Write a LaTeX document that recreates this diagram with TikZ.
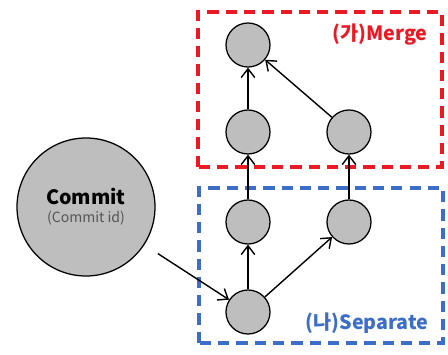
\documentclass[tikz,border=0pt]{standalone}
\usepackage{fontspec}
\setmainfont{Noto Sans CJK KR}
\usetikzlibrary{positioning, arrows.meta}
\definecolor{mergered}{RGB}{235,25,35}
\definecolor{sepblue}{RGB}{60,110,200}
\definecolor{nodegray}{RGB}{190,190,190}
\definecolor{idgray}{RGB}{85,85,85}

\begin{document}
\begin{tikzpicture}[
    node distance=2.25cm,
    commit/.style={circle, draw, fill=nodegray, minimum size=1.1cm, line width=0.9pt},
    bigcommit/.style={commit, minimum size=3.45cm, align=center},
    region/.style={line width=2.6pt, dash pattern=on 8pt off 5pt},
    label/.style={font=\bfseries\fontsize{14}{16}\selectfont},
    arrow/.style={-{Straight Barb[length=2.2mm, width=3.4mm]}, line width=1pt}
]
\useasboundingbox (0,0) rectangle (11.2,8.85);

% Regions
\draw[region, sepblue] (4.975,0.275) rectangle (11.075,4.15);
\draw[region, mergered] (4.95,4.675) rectangle (11.05,8.55);

% Commits
\node[commit] (b) at (6.2,1.05) {};
\node[commit, above of=b] (l1) {};
\node[commit, above of=l1] (l2) {};
\node[commit, above of=l2, yshift=-0.075cm] (top) {};
\node[commit, right of=l1, xshift=0.275cm] (r1) {};
\node[commit, right of=l2, xshift=0.275cm] (r2) {};

\node[bigcommit] (c) at (2.15,3.675) {{\bfseries\fontsize{14}{16}\selectfont Commit}\\[1pt]
  {\color{idgray}\fontsize{10}{12}\selectfont (Commit id)}};

% Arrows
\draw[arrow] (b) -- (l1);
\draw[arrow] (l1) -- (l2);
\draw[arrow] (l2) -- (top);
\draw[arrow] (b) -- (r1);
\draw[arrow] (r1) -- (r2);
\draw[arrow] (r2) -- (top);
\draw[arrow, shorten <=0.4cm] (c) -- (b);

% Labels
\node[label, mergered] (mlabel) at (9.5,7.975) {(가)Merge};
\node[label, sepblue] (slabel) at (9.175,0.775) {(나)Separate};

\end{tikzpicture}
\end{document}
